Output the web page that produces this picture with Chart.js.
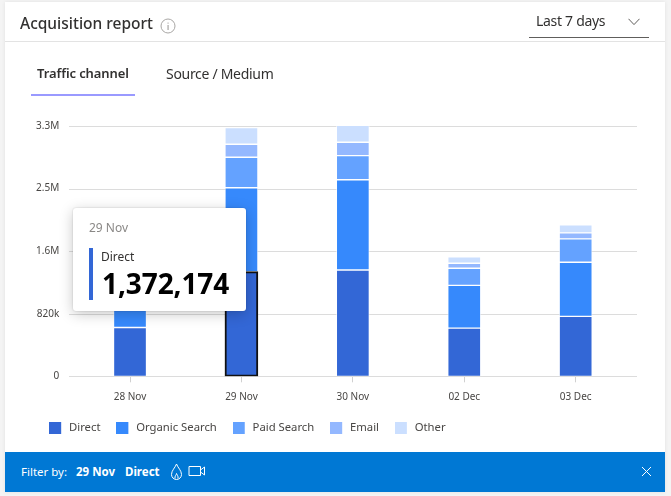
<!DOCTYPE html>
<html><head><meta charset="utf-8">
<script src="https://cdn.jsdelivr.net/npm/chart.js@4"></script>
<style>
*{box-sizing:border-box}
html,body{margin:0;padding:0;width:671px;height:496px;overflow:hidden;background:#f4f4f4;font-family:"Noto Sans",sans-serif;color:#323130}
#card{position:absolute;left:5px;top:2px;width:660px;height:490px;background:#fff;box-shadow:0 0 4px rgba(0,0,0,.08)}
.t{position:absolute;white-space:nowrap;line-height:1}
#canvasWrap{position:absolute;left:0;top:0;width:671px;height:452px}
#hr{position:absolute;left:5px;top:41px;width:660px;height:1px;background:#e3e3e3}
#tab{position:absolute;left:31px;top:94px;width:104px;height:2px;background:#9a9aff}
#dd{position:absolute;left:529px;top:37px;width:120px;height:1px;background:#605e5c}
#tip{position:absolute;left:73px;top:207.5px;width:172.5px;height:103px;background:#fff;border-radius:3px;box-shadow:0 3px 14px rgba(0,0,0,.22),0 0 2px rgba(0,0,0,.2)}
#tipbar{position:absolute;left:89px;top:248px;width:4px;height:52px;background:#3367d6}
#bar{position:absolute;left:5px;top:452px;width:660px;height:40px;background:#0078d4}
</style></head><body>
<div id="card"></div>
<div id="canvasWrap"><canvas id="c" width="671" height="452"></canvas></div>
<div id="hr"></div>
<div class="t" style="left:20px;top:16px;font-size:15.5px;font-weight:500" id="title"></div>
<svg style="position:absolute;left:160px;top:18px" width="16" height="16" viewBox="0 0 16 16"><circle cx="8" cy="8" r="7" fill="none" stroke="#a8a6a4" stroke-width="1"/><rect x="7.6" y="7" width=".9" height="5" fill="#8a8886"/><rect x="7.6" y="4.6" width=".9" height="1" fill="#8a8886"/></svg>
<div class="t" style="left:536px;top:14px;font-size:14px;letter-spacing:-.3px" id="range"></div>
<svg style="position:absolute;left:628px;top:18px" width="12" height="8" viewBox="0 0 12 8"><path d="M.5.8 6 6.6 11.5.8" fill="none" stroke="#605e5c" stroke-width="1"/></svg>
<div id="dd"></div>
<div class="t" style="left:37px;top:67px;font-size:13px;font-weight:600;letter-spacing:-.1px" id="tab1"></div>
<div class="t" style="left:166px;top:67px;font-size:14px;letter-spacing:-.3px" id="tab2"></div>
<div id="tab"></div>
<div id="tip"></div><div id="tipbar"></div>
<div class="t" style="left:89px;top:222px;font-size:12px;color:#8a8886" id="tipDate"></div>
<div class="t" style="left:101px;top:251px;font-size:12px" id="tipName"></div>
<div class="t" style="left:102px;top:269px;font-size:28px;font-weight:700;color:#000;letter-spacing:-.1px" id="tipVal"></div>
<div id="bar"></div>
<div class="t" style="left:21px;top:466px;font-size:11.5px;color:#fff" id="fb"></div>
<div class="t" style="left:76px;top:466px;font-size:11.5px;color:#fff;font-weight:700" id="fd"></div>
<div class="t" style="left:125px;top:466px;font-size:11.5px;color:#fff;font-weight:700" id="fn"></div>
<svg style="position:absolute;left:170px;top:463px" width="13" height="18" viewBox="0 0 13 18"><path d="M6.500 1C5 5 1.500 7.500 1.500 11.500a5 5 0 0 0 10 0C11.500 7.500 8 5 6.500 1Z M5 15.500C4.500 13 6.500 12 6.500 10.500 7 12 8.500 13 8 15.500" fill="none" stroke="#fff" stroke-width="1"/></svg>
<svg style="position:absolute;left:188px;top:465px" width="18" height="12" viewBox="0 0 18 12"><path d="M1 1.500h11.500v9H1Z M12.500 5 16.500 2v8L12.500 7" fill="none" stroke="#fff" stroke-width="1"/></svg>
<svg style="position:absolute;left:641px;top:466px" width="11" height="11" viewBox="0 0 11 11"><path d="M1 1l9 9M10 1l-9 9" stroke="#fff" stroke-width="1"/></svg>
<script>
const categories=["28 Nov","29 Nov","30 Nov","02 Dec","03 Dec"];
const seriesNames=["Direct","Organic Search","Paid Search","Email","Other"];
const direct=[640000,1372174,1393000,631000,785000];
const organic=[800000,1099000,1183000,561000,710000];
const paid=[300000,399000,316000,224000,306000];
const email=[100000,171000,175000,65000,79000];
const other=[120000,219000,223000,83000,105000];
const colors=["#3367d6","#3689fc","#64a2ff","#94b8ff","#cbdfff"];
const tickValues=[0,820000,1640000,2460000,3280000];
const tickLabels=["0","820k","1.6M","2.5M","3.3M"];
const selectedCategory=1, selectedSeries=0;

const txt=(id,s)=>document.getElementById(id).textContent=s;
txt("title","Acquisition report");txt("range","Last 7 days");txt("tab1","Traffic channel");txt("tab2","Source / Medium");
txt("tipDate",categories[selectedCategory]);txt("tipName",seriesNames[selectedSeries]);
txt("tipVal",direct[selectedCategory].toLocaleString("en-US"));
txt("fb","Filter by:");txt("fd",categories[selectedCategory]);txt("fn",seriesNames[selectedSeries]);

const isSel=(c,i)=>i===selectedSeries&&c.dataIndex===selectedCategory;
const extendedGrid={id:"extendedGrid",beforeDatasetsDraw(ch){
  const {ctx,scales:{y},chartArea:a}=ch;ctx.save();ctx.lineWidth=1;ctx.strokeStyle="#dcdcdc";
  tickValues.forEach(v=>{const p=Math.round(y.getPixelForValue(v))+.5;ctx.beginPath();ctx.moveTo(a.left-5.3,p);ctx.lineTo(a.right+5.6,p);ctx.stroke();});
  ctx.restore();}};
// legend swatch: a 12px square inside a 14px slot, so the label sits where the reference has it
const swatch=col=>{const k=document.createElement("canvas");k.width=14;k.height=12;const g=k.getContext("2d");g.fillStyle=col;g.fillRect(0,0,12,12);return k;};

new Chart(document.getElementById("c"),{
  type:"bar",
  data:{labels:categories,datasets:[direct,organic,paid,email,other].map((d,i)=>({
    label:seriesNames[i],data:d,backgroundColor:colors[i],
    borderColor:c=>isSel(c,i)?"#111":"rgba(255,255,255,.55)",
    borderWidth:c=>isSel(c,i)?2:1,
    borderRadius:c=>isSel(c,i)?3:0,
    borderSkipped:false,barThickness:33
  }))},
  plugins:[extendedGrid],
  options:{
    responsive:false,animation:false,devicePixelRatio:1,
    layout:{padding:{left:33.3,right:39.6,top:126,bottom:8.85}},
    scales:{
      x:{stacked:true,offset:true,
        afterFit(s){s.height=29.85;},
        grid:{offset:false,drawOnChartArea:false,tickLength:6,color:"#d0d0d0"},
        border:{display:false},
        ticks:{padding:9,font:{family:"Noto Sans",size:10},color:"#484644",maxRotation:0}},
      y:{stacked:true,min:0,max:3280000,
        afterBuildTicks(s){s.ticks=tickValues.map(v=>({value:v}));},
        afterFit(s){s.width=41;},
        grid:{display:false,drawTicks:false},border:{display:false},
        ticks:{padding:15,font:{family:"Noto Sans",size:10},color:"#484644",
          callback:v=>tickLabels[tickValues.indexOf(v)]}}
    },
    plugins:{
      tooltip:{enabled:false},
      legend:{position:"bottom",align:"start",
        labels:{usePointStyle:true,pointStyleWidth:14.35,padding:15.7,color:"#484644",font:{family:"Noto Sans",size:11.3},
          generateLabels(ch){return Chart.defaults.plugins.legend.labels.generateLabels(ch).map((l,i)=>({...l,pointStyle:swatch(colors[i])}));}}}
    }
  }
});
</script>
</body></html>
